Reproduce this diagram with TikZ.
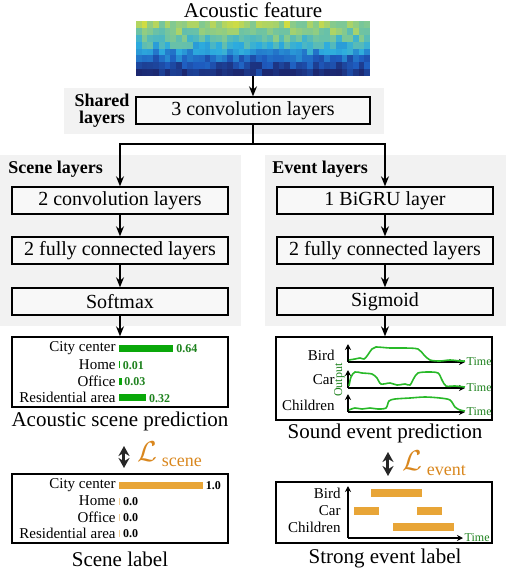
\documentclass[tikz,border=0pt]{standalone}
\usepackage{fontspec}
\setmainfont{Liberation Serif}
\usepackage{tikz}
\usetikzlibrary{positioning,arrows.meta,calc}
\definecolor{panelgray}{RGB}{242,242,242}
\definecolor{boxfill}{RGB}{248,248,248}
\definecolor{predgreen}{RGB}{10,168,10}
\definecolor{valgreen}{RGB}{30,130,30}
\definecolor{curvegreen}{RGB}{40,185,40}
\definecolor{labelorange}{RGB}{232,165,55}
\colorlet{labelthin}{labelorange!55}
\definecolor{lossorange}{RGB}{217,135,30}
% parula-like map for the feature
\definecolor{par0}{RGB}{28,40,112}
\definecolor{par1}{RGB}{30,92,192}
\definecolor{par2}{RGB}{45,172,222}
\definecolor{par3}{RGB}{125,200,150}
\definecolor{par4}{RGB}{230,225,45}
\tikzset{
  layerbox/.style={draw,line width=.7pt,fill=boxfill,minimum width=108pt,minimum height=13.5pt,inner sep=0pt,font=\fontsize{10}{12}\selectfont},
  outbox/.style={draw,line width=.7pt,fill=white,minimum width=108pt,inner sep=0pt},
  caption/.style={font=\fontsize{10.5}{12}\selectfont,inner sep=0pt},
  grouptitle/.style={font=\bfseries\fontsize{9}{8.5}\selectfont,inner sep=0pt,align=center},
  flow/.style={-{Stealth[length=5pt,width=4pt]},line width=.6pt},
  lossarrow/.style={{Stealth[length=5pt,width=5.5pt]}-{Stealth[length=5pt,width=5.5pt]},line width=1.5pt,draw=black!85},
  catlabel/.style={anchor=east,inner sep=0pt,font=\fontsize{7.5}{8}\selectfont},
  predval/.style={anchor=west,inner sep=0pt,font=\bfseries\fontsize{6}{7}\selectfont},
  axis/.style={-{Stealth[length=3pt,width=3pt]},line width=.7pt},
  timelbl/.style={anchor=west,inner sep=.5pt,text=valgreen,font=\fontsize{6}{7}\selectfont},
  lossname/.style={anchor=west,inner sep=0pt,text=lossorange}
}

\begin{document}
\begin{tikzpicture}[x=.5pt,y=-.5pt]
  \useasboundingbox (0,0) rectangle (506,570);
  % panels
  \fill[panelgray] (64,88) rectangle (384,134);
  \fill[panelgray] (0,155) rectangle (241,326);
  \fill[panelgray] (265,155) rectangle (506,326);

  % acoustic feature
  \node[caption] (feattitle) at (253,10) {Acoustic feature};
  \pgfmathsetseed{11}
  \foreach \lv [count=\r from 0] in {0.84,0.77,0.68,0.57,0.43,0.29,0.17,0.06}{
    \foreach \c in {0,...,40}{
      \pgfmathsetmacro\cl{max(0,min(0.999,\lv+0.24*rnd-0.12))}
      \pgfmathtruncatemacro\seg{floor(\cl*4)}
      \pgfmathtruncatemacro\mixp{(\cl*4-\seg)*100}
      \pgfmathtruncatemacro\segup{\seg+1}
      \colorlet{cellcol}{par\segup!\mixp!par\seg}
      \fill[cellcol] (136+\c*5.71,21+\r*6.875) rectangle ++(5.8,7);
    }
  }
  \node[minimum width=117pt,minimum height=27.5pt,inner sep=0pt] (spec) at (253,48.5) {};

  % shared part
  \node[layerbox,minimum width=117pt] (conv3) at (253,110.5) {3 convolution layers};
  \node[grouptitle] (sharedtitle) at (102,110.5) {Shared\\layers};
  \draw[flow] (spec.south) -- (conv3.north);

  % scene branch
  \node[grouptitle,anchor=west] (scenetitle) at (8,169) {Scene layers};
  \node[layerbox] (sconv) at (120,200.5) {2 convolution layers};
  \node[layerbox] (sfc) at (120,250.5) {2 fully connected layers};
  \node[layerbox] (ssoft) at (120,301.5) {Softmax};

  % event branch
  \node[grouptitle,anchor=west] (eventtitle) at (272,169) {Event layers};
  \node[layerbox] (egru) at (385,200.5) {1 BiGRU layer};
  \node[layerbox] (efc) at (385,250.5) {2 fully connected layers};
  \node[layerbox] (esig) at (385,301.5) {Sigmoid};

  \coordinate (split) at (253,144);
  \draw[line width=.6pt] (conv3.south) -- (split);
  \draw[flow] (split) -| (sconv.north);
  \draw[flow] (split) -| (egru.north);
  \draw[flow] (sconv) -- (sfc);
  \draw[flow] (sfc) -- (ssoft);
  \draw[flow] (egru) -- (efc);
  \draw[flow] (efc) -- (esig);

  % scene prediction
  \node[outbox,minimum height=35pt] (scenepred) at (120,372) {};
  \draw[flow] (ssoft) -- (scenepred);
  \foreach \nm/\v [count=\i from 0] in {City center/0.64,Home/0.01,Office/0.03,Residential area/0.32}{
    \pgfmathsetmacro\yy{348+\i*16.6}
    \node[catlabel] at (116,\yy) {\nm};
    \fill[predgreen] (119,\yy-3.5) rectangle ++({max(1,85*\v)},7);
    \node[predval,text=valgreen] at ({121.5+max(1,85*\v)},\yy+.5) {\v};
  }
  \node[caption] (scenecap) at (120,421) {Acoustic scene prediction};

  \coordinate (sl1) at (124,446);
  \coordinate (sl2) at (124,468);
  \draw[lossarrow] (sl1) -- (sl2);
  \node[lossname] (sceneloss) at (137,454) {\fontsize{14}{15}\selectfont$\mathcal{L}$\,\raisebox{-2.5pt}{\fontsize{9}{10}\selectfont scene}};

  % scene label
  \node[outbox,minimum height=34.5pt] (scenelab) at (120,508.5) {};
  \foreach \nm/\v [count=\i from 0] in {City center/1.0,Home/0.0,Office/0.0,Residential area/0.0}{
    \pgfmathsetmacro\yy{485+\i*16}
    \node[catlabel] at (116,\yy) {\nm};
    \pgfmathsetmacro\bw{max(1.2,84*\v)}
    \ifdim\v pt>0pt
      \fill[labelorange] (119,\yy-3.5) rectangle ++(\bw,7);
    \else
      \fill[labelthin] (119,\yy-3.5) rectangle ++(\bw,7);
    \fi
    \node[predval] at ({121.5+\bw},\yy+.5) {\v};
  }
  \node[caption] (scenelabcap) at (120,559) {Scene label};

  % event prediction
  \node[outbox,minimum height=41.5pt] (eventpred) at (384,378.5) {};
  \draw[flow] (esig) -- (eventpred.north -| esig);
  \foreach \yb/\nm/\yl in {362/Bird/355,388/Car/380,412/Children/405}{
    \draw[axis] (348,\yb) -- (348,\yb-18);
    \draw[axis] (348,\yb) -- (465,\yb) node[timelbl]{Time};
    \node[catlabel] at (335,\yl) {\nm};
  }
  \node[rotate=90,inner sep=0pt,text=valgreen,font=\fontsize{6}{7}\selectfont] (outlbl) at (339.5,380) {Output};
  \draw[curvegreen,line width=.8pt] plot[smooth,tension=.5] coordinates {(349,360) (355,359) (360,358) (364,359) (367,356) (372,349) (376,347) (390,348) (405,348) (418,349) (424,355) (430,360) (440,361) (450,360) (460,361) (465,361)};
  \draw[curvegreen,line width=.8pt] plot[smooth,tension=.5] coordinates {(349,386) (351,377) (355,372) (362,373) (372,374) (377,378) (381,384) (390,383) (397,385) (405,384) (410,385) (414,378) (418,373) (428,372) (438,373) (442,380) (446,386) (455,386) (465,387)};
  \draw[curvegreen,line width=.8pt] plot[smooth,tension=.5] coordinates {(349,410) (355,408) (362,409) (370,408) (378,409) (386,408) (389,401) (395,399) (410,398) (425,397) (440,398) (450,400) (455,407) (460,410) (465,411)};
  \node[caption] (eventcap) at (385,433) {Sound event prediction};

  \coordinate (el1) at (388,452);
  \coordinate (el2) at (388,476);
  \draw[lossarrow] (el1) -- (el2);
  \node[lossname] (eventloss) at (402,463) {\fontsize{14}{15}\selectfont$\mathcal{L}$\,\raisebox{-2.5pt}{\fontsize{9}{10}\selectfont event}};

  % strong event label
  \node[outbox,minimum height=30.5pt] (eventlab) at (384,512.5) {};
  \draw[axis] (348,538) -- (348,486);
  \draw[axis] (348,538) -- (463,538) node[timelbl]{Time};
  \node[catlabel] at (341,493) {Bird};
  \node[catlabel] at (341,511) {Car};
  \node[catlabel] at (341,527) {Children};
  \fill[labelorange] (371,489) rectangle (422,497);
  \fill[labelorange] (354,507) rectangle (379,515);
  \fill[labelorange] (417,507) rectangle (442,515);
  \fill[labelorange] (393,523) rectangle (454,531);
  \node[caption] (eventlabcap) at (385,558) {Strong event label};
\end{tikzpicture}
\end{document}
